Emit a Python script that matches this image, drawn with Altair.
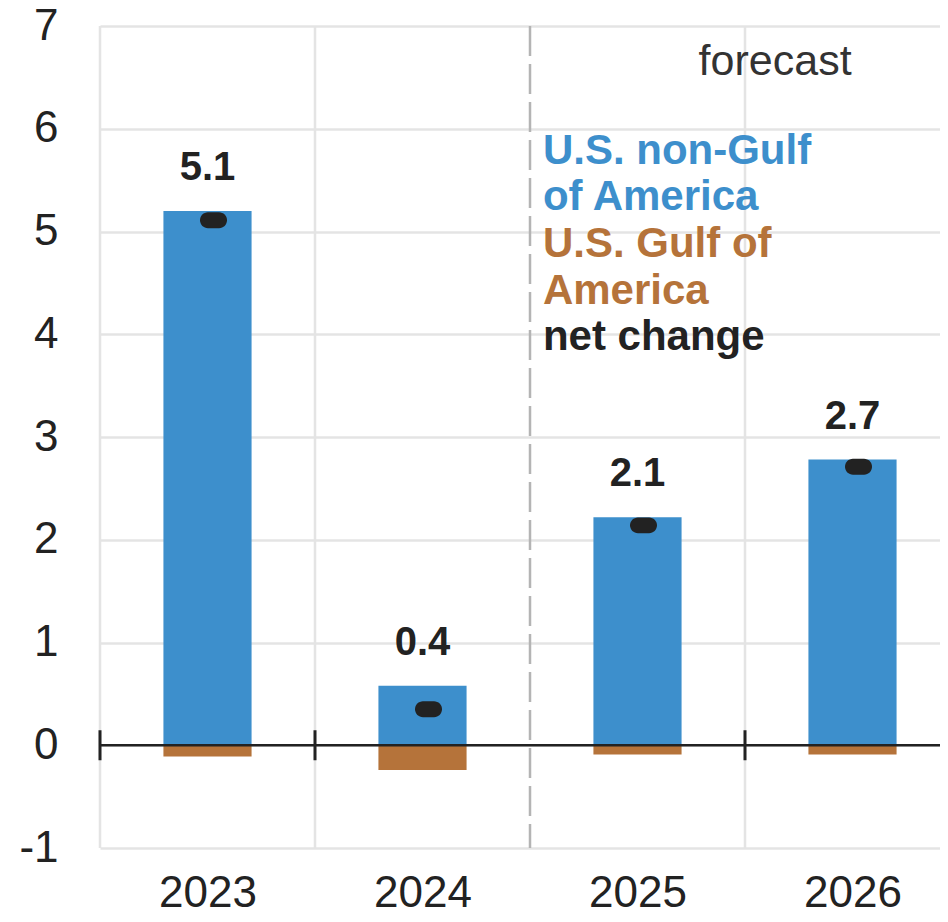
import altair as alt
import pandas as pd

# ---------------- data ----------------
years = [2023, 2024, 2025, 2026]
non_gulf = [5.20, 0.58, 2.22, 2.78]
gulf = [-0.11, -0.24, -0.09, -0.09]
net_change = [5.11, 0.35, 2.14, 2.71]
net_labels = ["5.1", "0.4", "2.1", "2.7"]

y_ticks = [-1, 0, 1, 2, 3, 4, 5, 6, 7]
grid_bounds = [2022.5, 2023.5, 2025.5, 2026.5]
forecast_bound = [2024.5]

legend_lines = ["U.S. non-Gulf", "of America", "U.S. Gulf of", "America", "net change"]
legend_y = [5.654, 5.207, 4.749, 4.292, 3.844]
legend_x = 2024.56
forecast_x = [2025.64]
forecast_y = [6.52]

BLUE = "#3d8fcc"
BROWN = "#b5733a"
DARK = "#222222"
FONT = "Liberation Sans, Arial, sans-serif"
legend_colors = [BLUE, BLUE, BROWN, BROWN, DARK]

# ---------------- tables ----------------
df = pd.DataFrame({"year": years, "non_gulf": non_gulf, "gulf": gulf,
                   "net": net_change, "label": net_labels})
bars = pd.DataFrame({
    "year": years * 2,
    "value": non_gulf + gulf,
    "series": ["non-Gulf"] * 4 + ["Gulf"] * 4,
})
bounds = pd.DataFrame({"b": grid_bounds, "zero": [0] * len(grid_bounds)})
fbound = pd.DataFrame({"b": forecast_bound})
leg = pd.DataFrame({"text": legend_lines, "y": legend_y,
                    "x": [legend_x] * len(legend_lines), "color": legend_colors})
fc = pd.DataFrame({"x": forecast_x, "y": forecast_y, "text": ["forecast"]})
zero_df = pd.DataFrame({"z": [0]})

xscale = alt.Scale(domain=[2022.5, 2026.5], nice=False, zero=False)
yscale = alt.Scale(domain=[-1, 7], nice=False, zero=False)
xaxis = alt.Axis(values=years, format="d", grid=False, domain=False, ticks=False,
                 labelFontSize=44, labelPadding=23, labelColor=DARK, labelFont=FONT,
                 labelFlush=False, labelOverlap=False, title=None)
yaxis = alt.Axis(values=y_ticks, grid=True, gridColor="#e4e4e4", gridWidth=2.5,
                 domain=False, ticks=False, labelFontSize=44, labelColor=DARK,
                 labelFont=FONT, labelPadding=42, title=None,
                 labelExpr="'' + datum.value")


def X(f):
    return alt.X(f, type="quantitative", scale=xscale, axis=xaxis)


def Y(f):
    return alt.Y(f, type="quantitative", scale=yscale, axis=yaxis)


vgrid = alt.Chart(bounds).mark_rule(color="#e4e4e4", strokeWidth=2.5).encode(x=X("b"))
dashed = alt.Chart(fbound).mark_rule(color="#b4b4b4", strokeWidth=2.5,
                                     strokeDash=[30, 8]).encode(x=X("b"))

barlayer = alt.Chart(bars).transform_calculate(
    x0="datum.year - 0.205", x1="datum.year + 0.205", base="0"
).mark_bar().encode(
    x=X("x0"), x2="x1:Q",
    y=Y("value"), y2="base:Q",
    color=alt.Color("series:N", scale=alt.Scale(domain=["non-Gulf", "Gulf"],
                                                 range=[BLUE, BROWN]), legend=None),
)

zero_line = alt.Chart(zero_df).mark_rule(color=DARK, strokeWidth=2.5).encode(y=Y("z"))
zero_ticks = alt.Chart(bounds).mark_tick(orient="vertical", color=DARK, size=30,
                                         thickness=3, opacity=1).encode(x=X("b"), y=Y("zero"))

pill = ("M -0.41 -0.59 L 0.41 -0.59 A 0.59 0.59 0 0 1 0.41 0.59 "
        "L -0.41 0.59 A 0.59 0.59 0 0 1 -0.41 -0.59 Z")
net_marks = alt.Chart(df).mark_point(shape=pill, filled=True, size=729, color=DARK,
                                     opacity=1, strokeWidth=0, xOffset=6).encode(
    x=X("year"), y=Y("net"))

value_labels = alt.Chart(df).mark_text(fontSize=40, fontWeight="bold", color=DARK,
                                       font=FONT, baseline="alphabetic", dy=-31).encode(
    x=X("year"), y=Y("non_gulf"), text="label:N")

legend_text = alt.Chart(leg).mark_text(fontSize=42, fontWeight="bold", font=FONT,
                                       align="left", baseline="alphabetic").encode(
    x=X("x"), y=Y("y"), text="text:N", color=alt.Color("color:N", scale=None))

forecast_text = alt.Chart(fc).mark_text(fontSize=43, font=FONT, color="#333333",
                                        align="center", baseline="alphabetic").encode(
    x=X("x"), y=Y("y"), text="text:N")

chart = alt.layer(
    vgrid, dashed, barlayer, zero_line, zero_ticks, net_marks,
    value_labels, legend_text, forecast_text
).properties(
    width=860, height=822,
    autosize=alt.AutoSizeParams(type="none"),
    padding={"left": 92, "top": 18, "right": -20, "bottom": 72},
    background="white",
).configure_view(stroke=None)

chart.save("out.html", embed_options={"renderer": "svg", "actions": False})
